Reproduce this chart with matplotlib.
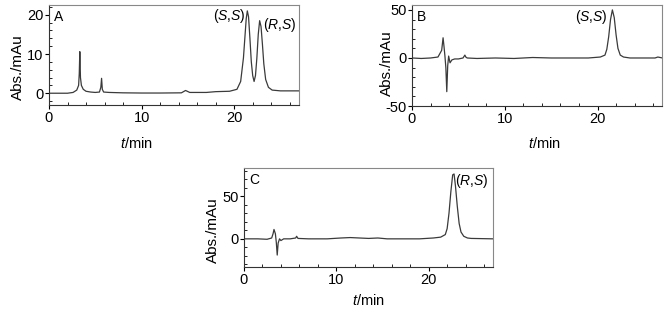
import matplotlib
matplotlib.use("Agg")
import matplotlib.pyplot as plt
from matplotlib.ticker import MultipleLocator

plt.rcParams["font.family"] = ["Liberation Sans", "DejaVu Sans"]
plt.rcParams["mathtext.fontset"] = "custom"
plt.rcParams["mathtext.rm"] = "Liberation Sans"
plt.rcParams["mathtext.it"] = "Liberation Sans:italic"
plt.rcParams["axes.unicode_minus"] = False

# chromatogram A: racemic mixture
a_time = [0, 2.0, 2.6, 3.0, 3.2, 3.27, 3.33, 3.4, 3.5, 3.7, 4.0, 4.5, 5.0, 5.45, 5.6, 5.68, 5.76, 5.9,
          6.5, 8, 10, 12, 14.3, 14.75, 15.2, 17, 18, 19.5, 20.3, 20.7, 21.0, 21.15, 21.3, 21.42,
          21.55, 21.7, 21.85, 22.0, 22.15, 22.3, 22.45, 22.6, 22.75, 22.9, 23.05, 23.2, 23.4, 23.7,
          24.1, 25, 27]
a_signal = [0, 0, 0.2, 0.8, 2.0, 5.0, 10.6, 4.0, 2.0, 1.0, 0.5, 0.3, 0.2, 0.3, 1.5, 3.8, 1.0, 0.3,
            0.2, 0.1, 0.05, 0.05, 0.1, 0.7, 0.2, 0.2, 0.4, 0.5, 1.0, 3.0, 9.0, 14.0, 19.0, 21.0,
            19.5, 14.0, 8.0, 4.5, 3.0, 4.5, 9.0, 15.0, 18.5, 17.0, 12.5, 7.5, 3.5, 1.5,
            0.8, 0.6, 0.6]

# chromatogram B: (S,S) isomer
b_time = [0, 1.0, 2.0, 2.8, 3.2, 3.35, 3.45, 3.55, 3.65, 3.75, 3.85, 3.95, 4.1, 4.3, 4.6, 5.0, 5.5,
          5.7, 5.8, 5.95, 7, 9, 11, 13, 15, 17, 19, 20.3, 20.8, 21.0, 21.2, 21.4, 21.6, 21.8, 22.0,
          22.2, 22.45, 22.8, 23.5, 25, 26.2, 26.5, 27]
b_signal = [0, -0.5, 0, 1, 8, 21, 12, 2, -10, -35, -8, 2, -5, -2, -1, -1, 0,
            3, 1, 0, -0.5, 0, -0.5, 0.5, 0, 0, 0, 1, 3, 9, 22, 40, 50, 42, 24,
            10, 3, 1, 0, 0, 0, 1, 0]

# chromatogram C: (R,S) isomer
c_time = [0, 1.5, 2.5, 3.0, 3.15, 3.25, 3.4, 3.5, 3.6, 3.7, 3.85, 4.0, 4.3, 5.0, 5.6, 5.7, 5.85,
          7, 9, 10.5, 11.5, 12.5, 13.5, 14.5, 15.5, 17, 19, 20.5, 21.3, 21.8, 22.0, 22.2, 22.4,
          22.6, 22.75, 22.9, 23.1, 23.3, 23.5, 23.8, 24.2, 24.6, 27]
c_signal = [0, 0, -0.5, 1, 6, 11, 6, -4, -19, -5, 0, -2, 0, 0, 1, 3, 0.5,
            0, 0, 1, 1.5, 1, 0.5, 1, 0, 0, 0, 1, 2, 5, 12, 30, 55,
            75, 76, 62, 38, 18, 8, 3, 1, 0.5, 0]

fig = plt.figure(figsize=(6.71, 3.12), dpi=100)

panels = [
    # rect, time, signal, ylim, major, minor, letter, xlabel (x, y), ylabel (x, y)
    ([0.073, 0.6635, 0.3726, 0.3205], a_time, a_signal, (-3, 22.5), 10, 2, "A", (0.35, -0.31), (-0.095, 0.38)),
    ([0.614, 0.660, 0.3733, 0.3237], b_time, b_signal, (-50, 55), 50, 10, "B", (0.53, -0.30), (-0.07, 0.426)),
    ([0.3636, 0.1442, 0.3716, 0.3173], c_time, c_signal, (-33, 83), 50, 10, "C", (0.5, -0.26), (-0.095, 0.374)),
]

axes = []
for rect, t, s, ylim, major, minor, letter, (xlx, xly), (ylx, yly) in panels:
    ax = fig.add_axes(rect)
    ax.plot(t, s, color="#3a3a3a", linewidth=0.9)
    ax.set_xlim(0, 27)
    ax.set_ylim(*ylim)
    ax.xaxis.set_major_locator(MultipleLocator(10))
    ax.xaxis.set_minor_locator(MultipleLocator(2))
    ax.yaxis.set_major_locator(MultipleLocator(major))
    ax.yaxis.set_minor_locator(MultipleLocator(minor))
    ax.tick_params(which="major", direction="out", length=3, width=0.8, labelsize=10.5, pad=1)
    ax.tick_params(which="minor", direction="in", length=2, width=0.6)
    for side in ["top", "right"]:
        ax.spines[side].set_color("#888888")
    for side in ["left", "bottom"]:
        ax.spines[side].set_color("#333333")
    ax.set_xlabel("$t$/min", fontsize=10.5)
    ax.set_ylabel("Abs./mAu", fontsize=11)
    ax.xaxis.set_label_coords(xlx, xly)
    ax.yaxis.set_label_coords(ylx, yly)
    ax.text(0.02, 0.88, letter, transform=ax.transAxes, fontsize=10, va="center")
    axes.append(ax)

ax_a, ax_b, ax_c = axes
ax_a.text(21.2, 19.6, "($S$,$S$)", fontsize=10, ha="right", va="center")
ax_a.text(23.1, 17.4, "($R$,$S$)", fontsize=10, ha="left", va="center")
ax_b.text(21.1, 43, "($S$,$S$)", fontsize=10, ha="right", va="center")
ax_c.text(22.9, 68, "($R$,$S$)", fontsize=10, ha="left", va="center")

fig.savefig("out.png", dpi=100)
